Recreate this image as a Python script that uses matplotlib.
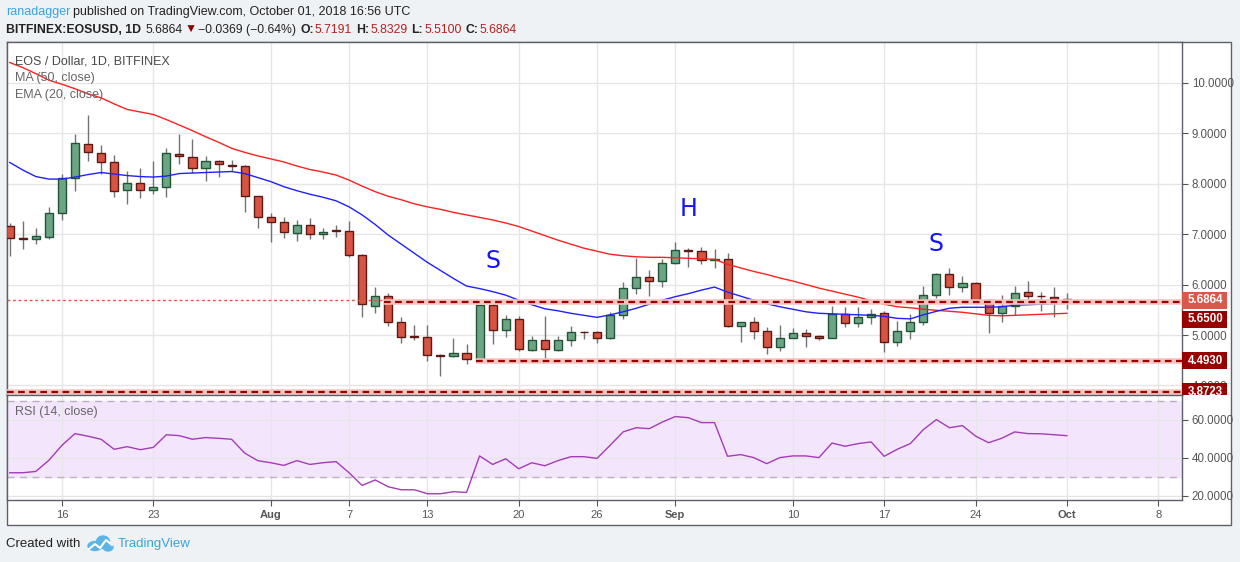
import matplotlib
matplotlib.use("Agg")
import matplotlib.pyplot as plt
import matplotlib.dates as mdates
import matplotlib.transforms as mtransforms
from matplotlib.patches import Rectangle, Ellipse
from matplotlib.text import Text
import pandas as pd

plt.rcParams['font.family'] = ['Liberation Sans', 'DejaVu Sans']

W, H = 1240, 562

# daily candles, BITFINEX:EOSUSD
dates = pd.date_range("2018-07-12", "2018-10-01", freq="D")
opens = [7.17, 6.92, 6.90, 6.94, 7.41, 8.11, 8.78, 8.60, 8.42, 7.87,
         8.01, 7.87, 7.93, 8.58, 8.52, 8.30, 8.44, 8.36, 8.34, 7.75,
         7.33, 7.23, 7.02, 7.19, 7.00, 7.08, 7.07, 6.58, 5.58, 5.77,
         5.25, 4.98, 4.97, 4.60, 4.58, 4.64, 4.52, 5.59, 5.09, 5.31,
         4.70, 4.91, 4.70, 4.91, 5.06, 5.05, 4.95, 5.39, 5.93, 6.14,
         6.08, 6.42, 6.68, 6.66, 6.48, 6.50, 5.17, 5.25, 5.07, 4.76,
         4.95, 5.03, 4.99, 4.95, 5.41, 5.23, 5.35, 5.43, 4.86, 5.07,
         5.25, 5.79, 6.20, 5.95, 6.04, 5.69, 5.43, 5.57, 5.85, 5.78,
         5.76, 5.7191]
highs = [7.22, 7.26, 7.12, 7.54, 8.19, 8.98, 9.36, 8.77, 8.57, 8.26,
         8.30, 8.45, 8.70, 8.98, 8.88, 8.55, 8.47, 8.46, 8.37, 7.76,
         7.41, 7.33, 7.27, 7.31, 7.12, 7.18, 7.26, 6.60, 5.95, 5.83,
         5.36, 5.20, 5.20, 4.62, 4.94, 4.82, 5.61, 5.66, 5.40, 5.38,
         4.98, 5.38, 4.98, 5.18, 5.08, 5.07, 5.45, 6.05, 6.53, 6.29,
         6.51, 6.84, 6.72, 6.74, 6.70, 6.62, 5.26, 5.36, 5.16, 5.20,
         5.13, 5.11, 5.01, 5.57, 5.55, 5.55, 5.51, 5.48, 5.28, 5.41,
         5.97, 6.22, 6.33, 6.17, 6.05, 5.71, 5.79, 5.98, 6.07, 5.85,
         5.96, 5.8329]
lows = [6.57, 6.71, 6.81, 6.90, 7.27, 7.86, 8.45, 8.19, 7.74, 7.60,
        7.72, 7.80, 7.74, 8.38, 8.22, 8.05, 8.14, 8.25, 7.44, 7.13,
        6.85, 6.93, 6.87, 6.91, 6.91, 6.95, 6.54, 5.35, 5.44, 5.18,
        4.85, 4.91, 4.49, 4.19, 4.57, 4.43, 4.50, 4.83, 4.97, 4.69,
        4.68, 4.52, 4.68, 4.79, 4.92, 4.85, 4.93, 5.32, 5.82, 5.78,
        5.96, 6.40, 6.34, 6.40, 6.33, 5.15, 4.87, 4.93, 4.63, 4.69,
        4.94, 4.76, 4.91, 4.94, 5.16, 5.16, 5.21, 4.67, 4.79, 4.93,
        5.20, 5.73, 5.80, 5.85, 5.63, 5.03, 5.26, 5.40, 5.71, 5.47,
        5.35, 5.51]
closes = [6.92, 6.91, 6.96, 7.41, 8.11, 8.80, 8.62, 8.42, 7.85, 8.01,
          7.87, 7.93, 8.60, 8.54, 8.30, 8.44, 8.38, 8.35, 7.75, 7.33,
          7.23, 7.04, 7.19, 7.00, 7.04, 7.06, 6.58, 5.61, 5.77, 5.25,
          4.97, 4.97, 4.60, 4.59, 4.64, 4.52, 5.59, 5.09, 5.31, 4.72,
          4.91, 4.72, 4.91, 5.05, 5.05, 4.95, 5.39, 5.93, 6.14, 6.08,
          6.42, 6.68, 6.67, 6.48, 6.50, 5.17, 5.25, 5.07, 4.76, 4.95,
          5.03, 4.99, 4.95, 5.41, 5.23, 5.35, 5.41, 4.86, 5.07, 5.25,
          5.79, 6.20, 5.95, 6.04, 5.69, 5.43, 5.57, 5.83, 5.77, 5.77,
          5.7233, 5.6864]

# indicators
ma50 = [10.40, 10.30, 10.18, 10.05, 9.97, 9.88, 9.78, 9.70, 9.58, 9.47,
        9.42, 9.37, 9.27, 9.16, 9.05, 8.93, 8.82, 8.70, 8.62, 8.55,
        8.49, 8.43, 8.35, 8.28, 8.23, 8.17, 8.07, 7.95, 7.84, 7.75,
        7.68, 7.60, 7.54, 7.49, 7.43, 7.38, 7.33, 7.28, 7.22, 7.15,
        7.06, 6.97, 6.88, 6.80, 6.72, 6.66, 6.60, 6.57, 6.55, 6.54,
        6.54, 6.53, 6.52, 6.51, 6.50, 6.40, 6.33, 6.26, 6.20, 6.13,
        6.07, 6.00, 5.93, 5.87, 5.81, 5.75, 5.68, 5.61, 5.56, 5.54,
        5.51, 5.49, 5.47, 5.45, 5.42, 5.39, 5.38, 5.39, 5.40, 5.41,
        5.42, 5.43]
ema20 = [8.42, 8.27, 8.14, 8.09, 8.09, 8.13, 8.18, 8.22, 8.19, 8.16,
         8.14, 8.13, 8.15, 8.20, 8.21, 8.22, 8.23, 8.24, 8.20, 8.12,
         8.04, 7.94, 7.86, 7.79, 7.73, 7.66, 7.54, 7.38, 7.19, 6.98,
         6.80, 6.62, 6.44, 6.28, 6.12, 5.97, 5.92, 5.86, 5.79, 5.69,
         5.60, 5.52, 5.48, 5.43, 5.39, 5.35, 5.40, 5.46, 5.53, 5.61,
         5.69, 5.76, 5.82, 5.89, 5.95, 5.85, 5.77, 5.69, 5.62, 5.56,
         5.51, 5.46, 5.43, 5.42, 5.41, 5.40, 5.39, 5.37, 5.33, 5.32,
         5.40, 5.47, 5.53, 5.55, 5.55, 5.55, 5.56, 5.59, 5.60, 5.61,
         5.62, 5.63]
rsi14 = [32.1, 32.1, 32.8, 38.7, 46.6, 52.8, 51.4, 49.8, 44.5, 45.9,
         44.3, 45.5, 52.2, 51.7, 49.8, 50.7, 50.3, 49.8, 42.5, 38.5,
         37.4, 36.0, 38.5, 36.5, 37.4, 38.0, 32.1, 25.4, 28.3, 24.7,
         23.1, 23.1, 21.0, 21.0, 22.1, 21.7, 41.0, 36.5, 39.5, 34.2,
         37.4, 35.8, 38.5, 40.6, 40.6, 39.7, 46.6, 53.7, 55.9, 55.4,
         58.9, 61.8, 61.2, 58.6, 58.6, 40.8, 41.7, 40.1, 36.9, 40.1,
         41.0, 41.0, 40.1, 47.8, 46.1, 47.5, 48.4, 40.8, 44.5, 47.5,
         54.9, 60.2, 55.9, 57.0, 51.5, 48.0, 50.3, 53.7, 52.8, 52.7,
         52.2, 51.7]

# horizontal levels drawn on the chart
last_price = 5.6864
levels = [5.6500, 4.4930, 3.8723]
level_starts = ["2018-08-10", "2018-08-17", None]
pattern_labels = ["S", "H", "S"]
pattern_dates = ["2018-08-18", "2018-09-02", "2018-09-21"]
pattern_prices = [6.47, 7.49, 6.80]

tick_dates = ["2018-07-16", "2018-07-23", "2018-08-01", "2018-08-07", "2018-08-13",
              "2018-08-20", "2018-08-26", "2018-09-01", "2018-09-10", "2018-09-17",
              "2018-09-24", "2018-10-01", "2018-10-08"]
tick_labels = ["16", "23", "Aug", "7", "13", "20", "26", "Sep", "10", "17", "24", "Oct", "8"]


def fx(x):
    return x / W


def fy(y):
    return 1 - y / H


fig = plt.figure(figsize=(W / 100, H / 100), dpi=100, facecolor="#eff2f5")
fig.patches.append(Rectangle((fx(7), fy(525)), fx(1231) - fx(7), fy(42) - fy(525),
                             transform=fig.transFigure, facecolor="white",
                             edgecolor="#5d606b", lw=1, zorder=-10))

PX_L, PX_R = 7, 1182
ax = fig.add_axes([fx(PX_L), fy(395), fx(PX_R) - fx(PX_L), fy(42) - fy(395)])
ax_rsi = fig.add_axes([fx(PX_L), fy(500), fx(PX_R) - fx(PX_L), fy(395) - fy(500)], sharex=ax)

x = mdates.date2num(dates)
x0 = x[0]
xlim = (x0 - 0.21, x0 + 89.82)
ylim = (3.811, 10.807)

GRID = "#e6e6e6"
SPINE = "#5d606b"
for a in (ax, ax_rsi):
    a.set_facecolor("white")
    for s in a.spines.values():
        s.set_color(SPINE)
        s.set_linewidth(1)
    a.set_xlim(*xlim)
    a.set_xticks(mdates.date2num(pd.to_datetime(tick_dates)))
    a.grid(True, color=GRID, lw=1, zorder=0)
    a.set_axisbelow(True)
    a.yaxis.tick_right()
    a.tick_params(axis="y", length=4, color="#555", labelsize=8.3, labelcolor="#555", pad=3)

# candles
up_body, up_edge = "#6ba583", "#225437"
dn_body, dn_edge = "#d75442", "#5b1a13"
ax.vlines(x, lows, highs, color="#737375", lw=1, zorder=2)
for xi, o, c in zip(x, opens, closes):
    up = c >= o
    ax.bar(xi, max(abs(c - o), 0.004), bottom=min(o, c), width=0.62,
           color=up_body if up else dn_body, edgecolor=up_edge if up else dn_edge,
           lw=1, zorder=3)

ax.plot(x, ma50, color="#ff2020", lw=1, zorder=4)
ax.plot(x, ema20, color="#2020ff", lw=1, zorder=4)

# support levels
ax.axhline(last_price, color="#d9584a", lw=1, ls=(0, (2, 2)), zorder=5)
for lev, start in zip(levels, level_starts):
    xs = xlim[0] if start is None else mdates.date2num(pd.Timestamp(start)) - 0.3
    ax.hlines(lev, xs, xlim[1], color="#f2c4c0", lw=4, zorder=5)
    ax.hlines(lev, xs, xlim[1], color="#990000", lw=1.6, ls=(0, (3, 2)), zorder=6)

for lab, d, p in zip(pattern_labels, pattern_dates, pattern_prices):
    ax.text(mdates.date2num(pd.Timestamp(d)), p, lab, color="#1414ff", fontsize=17,
            ha="center", va="center", family="DejaVu Sans", zorder=7)

ax.set_ylim(*ylim)
ax.set_yticks(range(4, 11))
ax.set_yticklabels([f"{v:.4f}" for v in range(4, 11)])
ax.tick_params(axis="x", length=0, labelbottom=False)

# price labels on the axis (boxes 17 px high, flush with the axis line)
px_per_unit = (395 - 42) / (ylim[1] - ylim[0])
box_h = 17 / px_per_unit
clip = mtransforms.TransformedBbox(mtransforms.Bbox([[fx(PX_L), fy(395)], [1.0, fy(42)]]),
                                   fig.transFigure)
trans = mtransforms.blended_transform_factory(ax.transAxes, ax.transData)
span = PX_R - PX_L
box_w = (1227 - PX_R) / span
txt_x = (1188 - PX_L) / span
price_boxes = [(last_price, 0, "#d9584a"), (levels[0], -1, "#990000"),
               (levels[1], 0, "#990000"), (levels[2], 0, "#990000")]
for val, shift, col in price_boxes:
    yc = val + shift * box_h
    r = Rectangle((1.0, yc - box_h / 2), box_w, box_h, transform=trans,
                  facecolor=col, edgecolor="none", zorder=10)
    r.set_clip_box(clip)
    fig.add_artist(r)
    t = Text(txt_x, yc, f"{val:.4f}", transform=trans, ha="left", va="center",
             fontsize=8.3, fontweight="bold", color="white", zorder=11)
    t.set_clip_box(clip)
    fig.add_artist(t)

# RSI panel
ax_rsi.axhspan(30, 70, color="#f3e6fc", zorder=0)
ax_rsi.axhline(70, color="#b9b0c2", lw=1, ls=(0, (5, 4)))
ax_rsi.axhline(30, color="#b9b0c2", lw=1, ls=(0, (5, 4)))
ax_rsi.plot(x, rsi14, color="#a43bb8", lw=1, zorder=3)
ax_rsi.set_ylim(17.7, 73.2)
ax_rsi.set_yticks([20, 40, 60])
ax_rsi.set_yticklabels(["20.0000", "40.0000", "60.0000"])
ax_rsi.set_xticklabels(tick_labels)
ax_rsi.tick_params(axis="x", length=4, color="#555", labelsize=8, labelcolor="#555", pad=3)
for lbl in ax_rsi.get_xticklabels():
    if lbl.get_text() in ("Aug", "Sep", "Oct"):
        lbl.set_fontweight("bold")

# header: segments placed one after another
renderer = fig.canvas.get_renderer()


def text_row(parts, x_start, y, size):
    xp = x_start
    for s, wt, col, gap in parts:
        t = fig.text(fx(xp), fy(y), s, fontsize=size, fontweight=wt, color=col, va="center")
        xp += t.get_window_extent(renderer).width + gap


text_row([("ranadagger", "normal", "#3ba3dc", 3),
          ("published on TradingView.com, October 01, 2018 16:56 UTC", "normal", "#222", 0)],
         6, 12, 9)
text_row([("BITFINEX:EOSUSD, 1D", "bold", "#222", 4), ("5.6864", "normal", "#222", 2),
          ("\u25bc", "normal", "#8b0000", 2), ("\u22120.0369 (\u22120.64%)", "normal", "#222", 4),
          ("O:", "bold", "#222", 1), ("5.7191", "normal", "#b22222", 4),
          ("H:", "bold", "#222", 1), ("5.8329", "normal", "#b22222", 4),
          ("L:", "bold", "#222", 1), ("5.5100", "normal", "#b22222", 4),
          ("C:", "bold", "#222", 1), ("5.6864", "normal", "#b22222", 0)],
         6, 30, 8.8)

fig.text(fx(15), fy(61), "EOS / Dollar, 1D, BITFINEX", color="#4a4a4a", fontsize=9, va="center")
fig.text(fx(15), fy(78), "MA (50, close)", color="#666", fontsize=9, va="center")
fig.text(fx(15), fy(95), "EMA (20, close)", color="#666", fontsize=9, va="center")
fig.text(fx(15), fy(412), "RSI (14, close)", color="#666", fontsize=9, va="center")

# footer
fig.text(fx(6), fy(544), "Created with", color="#222", fontsize=9.5, va="center")
logo = "#5ab4e6"
for cx, cy, w, h in [(95, 546, 14, 9), (103, 542, 13, 12), (108, 547, 10, 8)]:
    fig.patches.append(Ellipse((fx(cx), fy(cy)), w / W, h / H, transform=fig.transFigure,
                               color=logo))
fig.lines.append(plt.Line2D([fx(v) for v in (89, 95, 100, 106, 112)],
                            [fy(v) for v in (549, 544, 548, 540, 545)],
                            transform=fig.transFigure, color="white", lw=1.5))
fig.text(fx(118), fy(544), "TradingView", color="#3ba3dc", fontsize=9.5, va="center")

fig.savefig("out.png", dpi=100, facecolor=fig.get_facecolor())
